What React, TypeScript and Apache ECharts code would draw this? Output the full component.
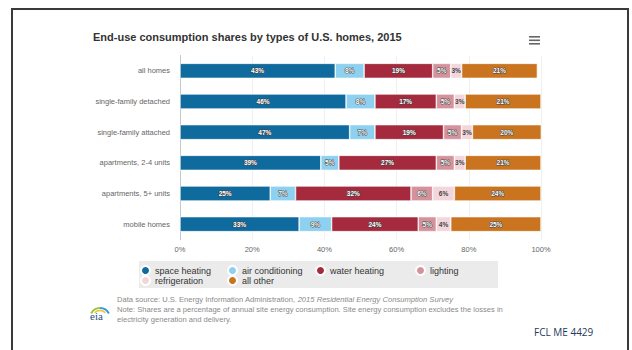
import React, { useEffect, useRef } from "react";
import * as echarts from "echarts";

const categories = [
  "all homes",
  "single-family detached",
  "single-family attached",
  "apartments, 2-4 units",
  "apartments, 5+ units",
  "mobile homes",
];
const spaceHeating = [43, 46, 47, 39, 25, 33];
const airConditioning = [8, 8, 7, 5, 7, 9];
const waterHeating = [19, 17, 19, 27, 32, 24];
const lighting = [5, 5, 5, 5, 6, 5];
const refrigeration = [3, 3, 3, 3, 6, 4];
const allOther = [21, 21, 20, 21, 24, 25];
const xTicks = [0, 20, 40, 60, 80, 100];

const seriesNames = [
  "space heating",
  "air conditioning",
  "water heating",
  "lighting",
  "refrigeration",
  "all other",
];
const seriesValues = [spaceHeating, airConditioning, waterHeating, lighting, refrigeration, allOther];
const seriesColors = ["#0f6a9e", "#8ed0ef", "#a62a3e", "#d5929c", "#f2d6dc", "#cb7420"];

const FONT = "'Liberation Sans', Arial, sans-serif";

export default function App() {
  const ref = useRef<HTMLDivElement>(null);
  useEffect(() => {
    if (!ref.current) return;
    const chart = echarts.init(ref.current, undefined, { renderer: "svg" });
    const legendText = { fontSize: 9, lineHeight: 9, color: "#333", fontFamily: FONT };
    const legendBase = {
      orient: "vertical",
      top: 265,
      itemWidth: 9,
      itemHeight: 9,
      itemGap: -1,
      icon: "circle",
      textStyle: legendText,
      padding: 0,
      selectedMode: false,
    };
    chart.setOption({
      animation: false,
      backgroundColor: "#ffffff",
      textStyle: { fontFamily: FONT },
      title: {
        text: "End-use consumption shares by types of U.S. homes, 2015",
        left: 93,
        top: 31,
        padding: 0,
        textStyle: { fontSize: 11, fontWeight: "bold", color: "#333", fontFamily: FONT },
      },
      grid: { left: 180, right: 91, top: 55.5, bottom: 110.5, containLabel: false },
      xAxis: {
        type: "value",
        min: xTicks[0],
        max: xTicks[xTicks.length - 1],
        interval: 20,
        axisLine: { show: false },
        axisTick: { show: false },
        splitLine: { lineStyle: { color: "#f0f0f0", width: 1 } },
        axisLabel: {
          formatter: "{value}%",
          fontSize: 7.5,
          color: "#666",
          margin: 6,
          fontFamily: FONT,
        },
      },
      yAxis: {
        type: "category",
        data: categories,
        inverse: true,
        axisLine: { show: true, lineStyle: { color: "#c8c8c8", width: 1 } },
        axisTick: { show: false },
        axisLabel: { fontSize: 7.5, color: "#666", margin: 10, fontFamily: FONT },
      },
      legend: [
        { ...legendBase, left: 140, data: ["space heating", "refrigeration"] },
        { ...legendBase, left: 227, data: ["air conditioning", "all other"] },
        { ...legendBase, left: 315, data: ["water heating"] },
        { ...legendBase, left: 415, data: ["lighting"] },
      ],
      series: seriesNames.map((name, i) => ({
        name,
        type: "bar",
        stack: "total",
        barWidth: 15,
        data: seriesValues[i],
        itemStyle: { color: seriesColors[i], borderColor: "#ffffff", borderWidth: 0.6 },
        label: {
          show: true,
          position: "inside",
          formatter: "{c}%",
          fontSize: 6.5,
          fontWeight: "bold",
          fontFamily: FONT,
          color: i === 4 ? "#444" : "#ffffff",
          textBorderColor: i === 4 ? "transparent" : "#444",
          textBorderWidth: i === 4 ? 0 : 1,
        },
      })),
      graphic: [
        {
          type: "rect",
          z: -10,
          shape: { x: 12, y: 9, width: 616, height: 360 },
          style: { fill: "transparent", stroke: "#3a3a3a", lineWidth: 2 },
        },
        {
          type: "rect",
          z: -5,
          shape: { x: 139, y: 261, width: 359, height: 27 },
          style: { fill: "#ebebeb" },
        },
        { type: "rect", shape: { x: 529, y: 36, width: 11, height: 1.6 }, style: { fill: "#666" } },
        { type: "rect", shape: { x: 529, y: 39.5, width: 11, height: 1.6 }, style: { fill: "#666" } },
        { type: "rect", shape: { x: 529, y: 43, width: 11, height: 1.6 }, style: { fill: "#666" } },
        {
          type: "text",
          left: 117,
          top: 295,
          style: {
            text: "{n|Data source: U.S. Energy Information Administration, }{i|2015 Residential Energy Consumption Survey}",
            rich: {
              n: { fontSize: 7.6, fill: "#8a8a8a", fontFamily: FONT },
              i: { fontSize: 7.6, fill: "#8a8a8a", fontStyle: "italic", fontFamily: FONT },
            },
          },
        },
        {
          type: "text",
          left: 117,
          top: 304.5,
          style: {
            text:
              "Note: Shares are a percentage of annual site energy consumption. Site energy consumption excludes the losses in\nelectricity generation and delivery.",
            fontSize: 7.6,
            lineHeight: 10,
            fill: "#8a8a8a",
            fontFamily: FONT,
          },
        },
        {
          type: "arc",
          shape: { cx: 100, cy: 318, r: 10, startAngle: Math.PI * 1.15, endAngle: Math.PI * 1.5 },
          style: { stroke: "#9cc83a", lineWidth: 2, fill: "none" },
        },
        {
          type: "arc",
          shape: { cx: 100, cy: 318, r: 10, startAngle: Math.PI * 1.5, endAngle: Math.PI * 1.85 },
          style: { stroke: "#3a9ad6", lineWidth: 2, fill: "none" },
        },
        {
          type: "arc",
          shape: { cx: 100, cy: 318, r: 7.5, startAngle: Math.PI * 1.25, endAngle: Math.PI * 1.75 },
          style: { stroke: "#e8c43a", lineWidth: 1.5, fill: "none" },
        },
        {
          type: "text",
          left: 90,
          top: 310,
          style: {
            text: "eia",
            fontSize: 11,
            fontFamily: "'Liberation Serif', serif",
            fill: "#1f4f7a",
          },
        },
        {
          type: "text",
          left: 534,
          top: 327,
          style: {
            text: "FCL ME 4429",
            fontSize: 10,
            fontFamily: "'Open Sans', sans-serif",
            fill: "#1f3a60",
          },
        },
      ],
    });
    return () => chart.dispose();
  }, []);
  return (
    <div
      ref={ref}
      style={{ position: "fixed", left: 0, top: 0, width: 632, height: 350, background: "#fff" }}
    />
  );
}
